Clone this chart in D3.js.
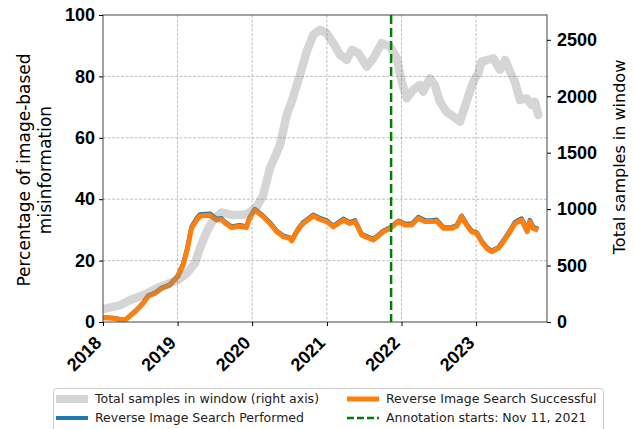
<!DOCTYPE html>
<html>
<head>
<meta charset="utf-8">
<script src="https://cdn.jsdelivr.net/npm/d3@7"></script>
<style>
  body { margin: 0; background: #fff; }
  svg { display: block; font-family: "DejaVu Sans", sans-serif; }
</style>
</head>
<body>
<script>
const width = 634
const height = 429

// total samples in the rolling window (right axis)
const sampleDates = ["2018-01-01","2018-03-24","2018-05-12","2018-07-16","2018-10-06",
  "2019-01-01","2019-02-14","2019-03-26","2019-04-20","2019-05-23","2019-06-24","2019-08-04","2019-09-30","2019-12-04",
  "2020-01-23","2020-02-24","2020-03-28","2020-05-16","2020-06-18","2020-07-12","2020-08-22","2020-09-24","2020-10-26","2020-11-28","2020-12-31",
  "2021-02-01","2021-03-06","2021-04-08","2021-05-03","2021-06-04","2021-07-15","2021-08-16","2021-09-26","2021-11-06","2021-12-09",
  "2022-01-02","2022-01-26","2022-02-27","2022-04-01","2022-04-17","2022-05-20","2022-06-13","2022-07-08","2022-08-09","2022-09-11","2022-10-14","2022-11-15","2022-12-18",
  "2023-01-11","2023-01-28","2023-03-26","2023-04-28","2023-05-23","2023-06-16","2023-07-10","2023-08-04","2023-09-05","2023-09-30","2023-10-16","2023-11-01"]
const sampleValues = [115,148,192,237,311,
  370,430,518,651,799,902,971,947,953,
  1020,1124,1361,1568,1834,1952,2189,2396,2544,2589,2559,
  2470,2367,2322,2411,2382,2263,2337,2470,2441,2337,
  2130,1982,2056,2100,2041,2160,2100,1952,1863,1819,1775,1952,2130,
  2204,2307,2337,2234,2322,2219,2130,1967,1982,1923,1952,1834]

// percentage series (left axis)
const pctDates = ["2018-01-02","2018-02-20","2018-03-24","2018-04-17","2018-05-12","2018-06-14","2018-07-16","2018-08-10","2018-09-12","2018-10-15","2018-11-24",
  "2019-01-01","2019-01-28","2019-02-17","2019-03-10","2019-04-04","2019-04-20","2019-06-08","2019-07-10","2019-08-04","2019-08-20","2019-09-22","2019-11-01","2019-12-04","2019-12-20",
  "2020-01-14","2020-02-24","2020-03-28","2020-04-30","2020-06-02","2020-07-04","2020-07-12","2020-08-14","2020-09-07","2020-10-26","2020-11-28","2020-12-31",
  "2021-02-01","2021-03-22","2021-04-23","2021-05-19","2021-06-20","2021-08-16","2021-10-04","2021-11-06","2021-12-17",
  "2022-01-18","2022-02-20","2022-03-24","2022-04-26","2022-05-29","2022-06-22","2022-07-25","2022-09-03","2022-09-28","2022-10-22","2022-11-15","2022-12-10",
  "2023-01-04","2023-01-28","2023-02-22","2023-03-18","2023-04-20","2023-05-14","2023-06-16","2023-07-10","2023-08-12","2023-08-28","2023-09-08","2023-09-21","2023-10-07","2023-11-01"]
const performed = [1.5,1.3,0.9,0.6,2.0,3.9,6.2,8.6,9.5,11.1,12.2,
  15.0,18.9,23.9,31.0,33.7,35.0,35.3,33.6,33.8,32.6,31.1,31.5,31.1,34.1,
  36.8,34.6,32.4,29.7,28.1,27.5,26.7,30.5,32.5,34.9,33.8,33.1,
  31.3,33.6,32.5,33.1,28.6,27.0,29.7,30.8,33.0,
  32.0,32.0,34.2,33.1,33.1,33.3,30.8,30.8,31.5,34.6,32.0,29.7,
  29.2,26.4,24.3,23.2,24.3,26.5,29.8,32.5,33.7,31.5,29.8,33.2,31.0,30.3]
const successful = [1.4,1.2,0.8,0.5,1.9,3.8,6.0,8.4,9.3,10.9,12.0,
  14.7,18.5,23.4,30.5,33.2,34.5,34.8,33.2,33.4,32.3,30.8,31.2,30.8,33.8,
  36.5,34.3,32.1,29.4,27.8,27.2,26.4,30.2,32.1,34.5,33.4,32.7,
  31.0,33.2,32.1,32.7,28.3,26.7,29.4,30.5,32.7,
  31.6,31.6,33.8,32.7,32.7,32.9,30.5,30.5,31.2,34.3,31.6,29.4,
  28.9,26.1,24.0,22.9,24.0,26.1,29.4,32.1,33.2,31.0,29.4,32.7,30.5,29.9]

const yearTicks = ["2018","2019","2020","2021","2022","2023"]
const leftTicks = [0,20,40,60,80,100]
const rightTicks = [0,500,1000,1500,2000,2500]
const annotationDate = "2021-11-11"

const parse = d3.timeParse("%Y-%m-%d")
const margin = {top: 15, right: 87, bottom: 107, left: 103}

const x = d3.scaleTime()
  .domain([parse("2018-01-01"), parse("2023-12-14")])
  .range([margin.left, width - margin.right])
const yL = d3.scaleLinear().domain([0, 100]).range([height - margin.bottom, margin.top])
const yR = d3.scaleLinear().domain([0, 2720]).range([height - margin.bottom, margin.top])

const svg = d3.select("body").append("svg").attr("width", width).attr("height", height)

// grid
const grid = svg.append("g").attr("stroke", "#b0b0b0").attr("stroke-width", 0.8).attr("stroke-dasharray", "3,1.5")
grid.selectAll(".gx").data(yearTicks.slice(1)).join("line")
  .attr("x1", (d) => x(parse(d + "-01-01"))).attr("x2", (d) => x(parse(d + "-01-01")))
  .attr("y1", margin.top).attr("y2", height - margin.bottom)
grid.selectAll(".gy").data(leftTicks.slice(1, -1)).join("line")
  .attr("x1", margin.left).attr("x2", width - margin.right)
  .attr("y1", (d) => yL(d)).attr("y2", (d) => yL(d))

svg.append("clipPath").attr("id", "clip").append("rect")
  .attr("x", margin.left).attr("y", margin.top)
  .attr("width", width - margin.right - margin.left).attr("height", height - margin.bottom - margin.top)

const plot = svg.append("g").attr("clip-path", "url(#clip)")

const pctLine = (vals) => d3.line().x((d, i) => x(parse(pctDates[i]))).y((d) => yL(d))(vals)

plot.append("path").attr("d", pctLine(performed))
  .attr("fill", "none").attr("stroke", "#1f77b4").attr("stroke-width", 4.5).attr("stroke-linejoin", "round")
plot.append("path").attr("d", pctLine(successful))
  .attr("fill", "none").attr("stroke", "#ff7f0e").attr("stroke-width", 5).attr("stroke-linejoin", "round")

plot.append("path")
  .attr("d", d3.line().x((d, i) => x(parse(sampleDates[i]))).y((d) => yR(d))(sampleValues))
  .attr("fill", "none").attr("stroke", "#808080").attr("stroke-opacity", 0.33)
  .attr("stroke-width", 8.5).attr("stroke-linejoin", "round").attr("stroke-linecap", "round")

plot.append("line")
  .attr("x1", x(parse(annotationDate))).attr("x2", x(parse(annotationDate)))
  .attr("y1", margin.top).attr("y2", height - margin.bottom)
  .attr("stroke", "#008000").attr("stroke-width", 2.5).attr("stroke-dasharray", "9,4")

// frame
svg.append("rect")
  .attr("x", margin.left).attr("y", margin.top)
  .attr("width", width - margin.right - margin.left).attr("height", height - margin.bottom - margin.top)
  .attr("fill", "none").attr("stroke", "#444").attr("stroke-width", 1)

// axes
const tickFont = (g) => g.selectAll("text").attr("font-size", 18).attr("font-weight", "bold").attr("fill", "#000")

const ax = svg.append("g").attr("transform", `translate(0,${height - margin.bottom})`)
  .call(d3.axisBottom(x).tickValues(yearTicks.map((d) => parse(d + "-01-01"))).tickFormat(d3.timeFormat("%Y")).tickSizeOuter(0).tickSize(4))
ax.select(".domain").remove()
ax.call(tickFont)
ax.selectAll("text").attr("text-anchor", "end").attr("dy", null).attr("y", null)
  .attr("transform", "translate(-1,22) rotate(-45)")

const al = svg.append("g").attr("transform", `translate(${margin.left},0)`)
  .call(d3.axisLeft(yL).tickValues(leftTicks).tickSizeOuter(0).tickSize(4).tickPadding(4))
al.select(".domain").remove()
al.call(tickFont)

const ar = svg.append("g").attr("transform", `translate(${width - margin.right},0)`)
  .call(d3.axisRight(yR).tickValues(rightTicks).tickFormat(d3.format("d")).tickSizeOuter(0).tickSize(4).tickPadding(6))
ar.select(".domain").remove()
ar.call(tickFont)

// axis titles
const title = (cx, cy, size, txt) => svg.append("text")
  .attr("transform", `translate(${cx},${cy}) rotate(-90)`)
  .attr("dy", "0.35em").attr("text-anchor", "middle").attr("font-size", size).text(txt)
title(24, 170, 17, "Percentage of image-based")
title(45, 170, 17, "misinformation")
title(619, 157, 16, "Total samples in window")

// legend
const legendItems = [
  {label: "Total samples in window (right axis)", color: "#d4d4d4", w: 8, dash: null, col: 0, row: 0},
  {label: "Reverse Image Search Performed", color: "#1f77b4", w: 4, dash: null, col: 0, row: 1},
  {label: "Reverse Image Search Successful", color: "#ff7f0e", w: 5, dash: null, col: 1, row: 0},
  {label: "Annotation starts: Nov 11, 2021", color: "#008000", w: 2.5, dash: "7,3", col: 1, row: 1}
]
const lg = svg.append("g")
lg.append("rect").attr("x", 53.5).attr("y", 388.5).attr("width", 550).attr("height", 50)
  .attr("rx", 3).attr("fill", "#fff").attr("stroke", "#ccc")
const colX = [56, 347]
const rowY = [399, 418]
const item = lg.selectAll("g").data(legendItems).join("g")
  .attr("transform", (d) => `translate(${colX[d.col]},${rowY[d.row]})`)
item.append("line").attr("x1", 0).attr("x2", 32)
  .attr("stroke", (d) => d.color).attr("stroke-width", (d) => d.w).attr("stroke-dasharray", (d) => d.dash)
item.append("text").attr("x", 39).attr("dy", "0.35em").attr("font-size", 12.5).attr("fill", "#222").text((d) => d.label)
</script>
</body>
</html>
